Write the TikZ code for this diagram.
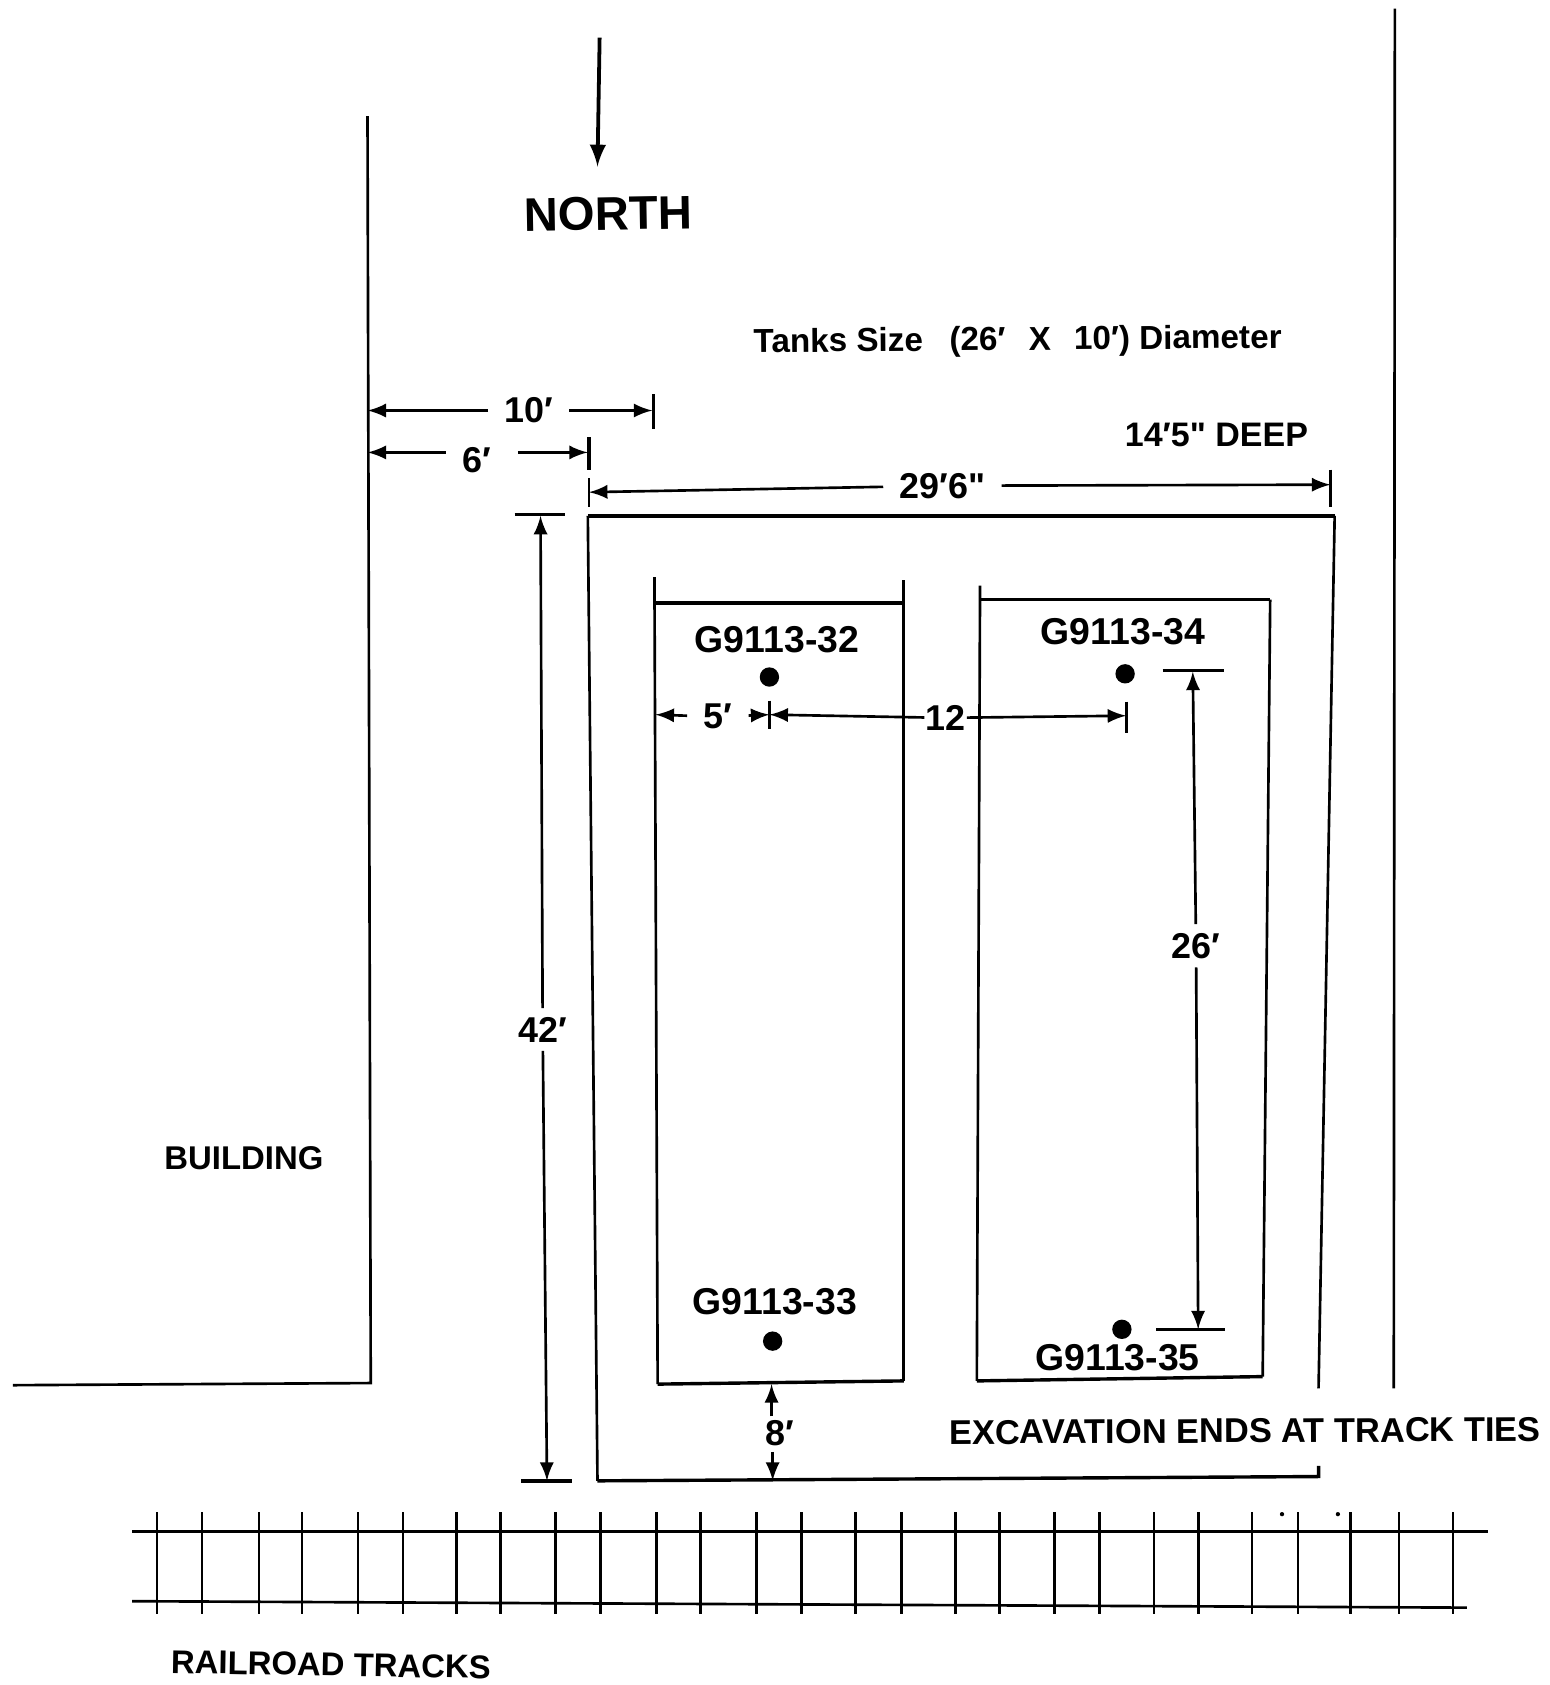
\documentclass[tikz,border=0pt]{standalone}
\usepackage{fontspec}
\setmainfont{Liberation Sans}[Ligatures=TeXOff]
\usepackage{tikz}
\usetikzlibrary{arrows}

\begin{document}
\begin{tikzpicture}[x=0.01cm,y=-0.01cm,line width=0.7pt,
    dim/.style={-latex},
    tick/.style={line width=0.9pt},
    edge/.style={line width=0.9pt},
    tag/.style={font=\fontsize{9.5}{11}\bfseries,inner sep=2pt},
    sizetag/.style={tag,inner sep=4pt},
    welltag/.style={tag,font=\fontsize{9.9}{11}\bfseries},
    plaintag/.style={tag,font=\fontsize{8.7}{11}\bfseries},
    well/.style={circle,fill=black,inner sep=0pt,minimum size=0.18cm},
    speck/.style={circle,fill=black,inner sep=0pt,minimum size=0.04cm}]
    \useasboundingbox (0,0) rectangle (1442,1568);

    \coordinate (bldtop) at (342,108);
    \coordinate (bldcorner) at (345,1287);
    \coordinate (bldend) at (12,1289);
    \draw (bldtop) -- (bldcorner) -- (bldend);
    \coordinate (fencetop) at (1298,8);
    \coordinate (fenceend) at (1297,1292);
    \draw (fencetop) -- (fenceend);

    \coordinate (pitnw) at (547,480);
    \coordinate (pitne) at (1242,480);
    \coordinate (pitse) at (1227,1292);
    \coordinate (pitsw) at (556,1378);
    \coordinate (pitbe) at (1227,1374);
    \coordinate (pitbt) at (1227,1364);
    \draw[edge] (pitnw) -- (pitne);
    \draw (pitne) -- (pitse);
    \draw (pitnw) -- (pitsw);
    \draw[edge] (pitsw) -- (pitbe) -- (pitbt);

    \coordinate (lefta) at (609,537);
    \coordinate (leftb) at (612,1288);
    \coordinate (leftc) at (841,1285);
    \coordinate (leftd) at (841,540);
    \coordinate (leftp) at (610,561);
    \coordinate (leftq) at (841,561);
    \draw (lefta) -- (leftb);
    \draw[edge] (leftb) -- (leftc);
    \draw (leftc) -- (leftd);
    \draw[edge] (leftp) -- (leftq);

    \coordinate (righta) at (912,545);
    \coordinate (rightb) at (909,1285);
    \coordinate (rightc) at (1175,1281);
    \coordinate (rightd) at (1182,558);
    \coordinate (rightp) at (912,558);
    \draw (righta) -- (rightb);
    \draw[edge] (rightb) -- (rightc);
    \draw (rightc) -- (rightd);
    \draw[edge] (rightd) -- (rightp);

    \node[well] (w32) at (716,630) {};
    \node[well] (w34) at (1047,627) {};
    \node[well] (w33) at (719,1248) {};
    \node[well] (w35) at (1044,1237) {};
    \node[welltag] (g32) at (723,595) {G9113-32};
    \node[welltag] (g34) at (1045,588) {G9113-34};
    \node[welltag] (g33) at (721,1211) {G9113-33};
    \node[welltag] (g35) at (1040,1263) {G9113-35};

    \node[tag,font=\fontsize{12.5}{14}\bfseries,rotate=1] (north) at (566,199) {NORTH};
    \coordinate (arrowtop) at (558,35);
    \coordinate (arrowend) at (556,155);
    \draw[-latex,line width=1pt] (arrowtop) -- (arrowend);
    \node[tag,font=\fontsize{8.8}{11}\bfseries,rotate=0.5] (tanks) at (947,318) {Tanks Size\hspace{0.16cm} (26′\hspace{0.13cm} X\hspace{0.13cm} 10′) Diameter};
    \node[tag,font=\fontsize{9}{11}\bfseries] (deep) at (1132,405) {14′5" DEEP};
    \node[plaintag] (building) at (227,1078) {BUILDING};
    \node[tag,font=\fontsize{9.1}{11}\bfseries,anchor=west,rotate=0.3] (ends) at (875,1333) {EXCAVATION ENDS AT TRACK TIES};
    \node[plaintag,rotate=-1] (tracks) at (308,1549) {RAILROAD TRACKS};

    \node[sizetag] (d10) at (492,382) {10′};
    \coordinate (d10l) at (342,382);
    \coordinate (d10r) at (607,382);
    \coordinate (d10a) at (608,367);
    \coordinate (d10b) at (608,399);
    \draw[dim] (d10) -- (d10l);
    \draw[dim] (d10) -- (d10r);
    \draw[tick] (d10a) -- (d10b);

    \node[sizetag] (d6) at (444,428) {6′};
    \coordinate (d6l) at (342,421);
    \coordinate (d6r) at (547,421);
    \coordinate (d6p) at (415,421);
    \coordinate (d6q) at (482,421);
    \coordinate (d6a) at (548,407);
    \coordinate (d6b) at (548,437);
    \draw[dim] (d6p) -- (d6l);
    \draw[dim] (d6q) -- (d6r);
    \draw[tick] (d6a) -- (d6b);

    \node[sizetag] (d29) at (877,452) {29′6"};
    \coordinate (d29l) at (548,458);
    \coordinate (d29r) at (1238,451);
    \coordinate (d29a) at (548,445);
    \coordinate (d29b) at (548,472);
    \coordinate (d29c) at (1238,437);
    \coordinate (d29d) at (1238,472);
    \draw[dim] (d29) -- (d29l);
    \draw[dim] (d29) -- (d29r);
    \draw (d29a) -- (d29b);
    \draw (d29c) -- (d29d);

    \node[tag] (d42) at (505,958) {42′};
    \coordinate (d42t) at (503,480);
    \coordinate (d42b) at (509,1378);
    \coordinate (d42a) at (479,479);
    \coordinate (d42c) at (526,479);
    \coordinate (d42d) at (485,1378);
    \coordinate (d42e) at (532,1378);
    \draw[dim] (d42) -- (d42t);
    \draw[dim] (d42) -- (d42b);
    \draw[edge] (d42a) -- (d42c);
    \draw[edge] (d42d) -- (d42e);

    \node[sizetag] (d5) at (668,667) {5′};
    \coordinate (d5l) at (610,665);
    \coordinate (d5r) at (716,665);
    \coordinate (d5a) at (716,652);
    \coordinate (d5b) at (716,678);
    \draw[dim] (d5) -- (d5l);
    \draw[dim] (d5) -- (d5r);
    \draw[tick] (d5a) -- (d5b);

    \node[tag,inner sep=0pt] (d12) at (880,668) {12};
    \coordinate (d12l) at (716,665);
    \coordinate (d12r) at (1048,666);
    \coordinate (d12a) at (1048,653);
    \coordinate (d12b) at (1048,682);
    \draw[dim] (d12) -- (d12l);
    \draw[dim] (d12) -- (d12r);
    \draw[tick] (d12a) -- (d12b);

    \node[tag] (d26) at (1113,880) {26′};
    \coordinate (d26t) at (1110,625);
    \coordinate (d26b) at (1115,1237);
    \coordinate (d26a) at (1082,624);
    \coordinate (d26c) at (1139,624);
    \coordinate (d26d) at (1076,1237);
    \coordinate (d26e) at (1140,1237);
    \draw[dim] (d26) -- (d26t);
    \draw[dim] (d26) -- (d26b);
    \draw[edge] (d26a) -- (d26c);
    \draw[edge] (d26d) -- (d26e);

    \node[tag,inner sep=1pt] (d8) at (726,1334) {8′};
    \coordinate (d8t) at (718,1288);
    \coordinate (d8b) at (719,1378);
    \coordinate (d8p) at (718,1318);
    \coordinate (d8q) at (719,1351);
    \draw[dim] (d8p) -- (d8t);
    \draw[dim] (d8q) -- (d8b);

    \coordinate (railaw) at (123,1425);
    \coordinate (railae) at (1385,1425);
    \coordinate (railbw) at (123,1490);
    \coordinate (railbe) at (1365,1496);
    \draw (railaw) -- (railae);
    \draw (railbw) -- (railbe);
    \foreach \p in {146,188,241,281,333,375,425,466,517,559,611,652,704,746,796,839,889,930,981,1023,1074,1115,1165,1208,1257,1302,1352} {
      \draw (\p, 1407) -- (\p, 1502);
    }
    \node[speck] (specka) at (1193,1409) {};
    \node[speck] (speckb) at (1245,1409) {};
  \end{tikzpicture}
\end{document}
